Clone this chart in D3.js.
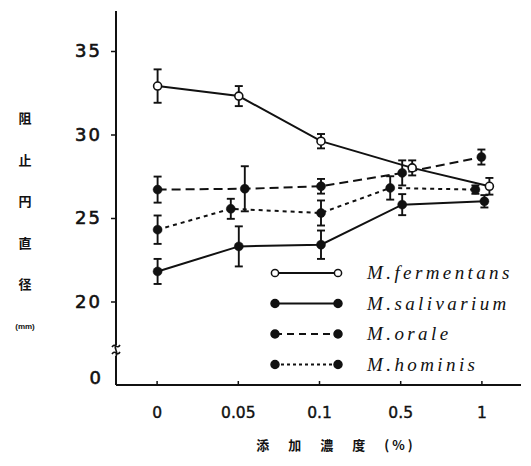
<!DOCTYPE html>
<html>
<head>
<meta charset="utf-8">
<script src="https://cdn.jsdelivr.net/npm/d3@7"></script>
<style>
  body { margin: 0; background: #fff; }
  svg { display: block; }
</style>
</head>
<body>
<div id="chart"></div>
<script>
// concentrations (categories on the x axis)
const concentrations = ["0", "0.05", "0.1", "0.5", "1"];

// inhibition zone diameter (mm), mean and error
const fermentansMean = [32.9, 32.3, 29.6, 28.0, 26.9];
const fermentansErr  = [1.0, 0.6, 0.43, 0.45, 0.5];
const salivariumMean = [21.8, 23.3, 23.4, 25.8, 26.0];
const salivariumErr  = [0.75, 1.2, 0.85, 0.63, 0.37];
const oraleMean      = [26.7, 26.75, 26.9, 27.7, 28.65];
const oraleErr       = [0.78, 1.35, 0.44, 0.75, 0.45];
const hominisMean    = [24.3, 25.55, 25.3, 26.8, 26.7];
const hominisErr     = [0.85, 0.6, 0.75, 0.7, 0.25];

const seriesNames = ["M. fermentans", "M. salivarium", "M. orale", "M. hominis"];
const yTicks = [20, 25, 30, 35];

const width = 531, height = 466;

const svg = d3.select("#chart").append("svg")
    .attr("width", width)
    .attr("height", height)
    .style("font-family", "'Liberation Sans', Arial, sans-serif");

//scales
const x = d3.scalePoint().domain(concentrations).range([116, 522]).padding(0.5);
const y = d3.scaleLinear().domain([20, 35]).range([301.5, 51]);
const axisY = 385;   // where the x axis sits (broken y axis)

// series styling and small horizontal dodge (pixels) so overlapping points separate
const series = [
  { name: seriesNames[0], mean: fermentansMean, err: fermentansErr, dash: null, open: true,  dodge: [1, 1, 2, 12, 8] },
  { name: seriesNames[1], mean: salivariumMean, err: salivariumErr, dash: null, open: false, dodge: [1, 1, 2, 2, 3] },
  { name: seriesNames[2], mean: oraleMean,      err: oraleErr,      dash: "9,5", open: false, dodge: [1, 7, 2, 2, 0] },
  { name: seriesNames[3], mean: hominisMean,    err: hominisErr,    dash: "4,4", open: false, dodge: [1, -7, 2, -10, -6] }
];

const px = (s, i) => x(concentrations[i]) + s.dodge[i];

//y axis
const gy = svg.append("g")
    .attr("transform", "translate(116,0)")
    .call(d3.axisLeft(y).tickValues(yTicks).tickSize(5).tickPadding(9));
gy.select(".domain").remove();
gy.selectAll("line").attr("stroke", "#111").attr("stroke-width", 1.5);
gy.selectAll("text")
    .attr("fill", "#111")
    .attr("stroke", "#111")
    .attr("stroke-width", 0.6)
    .style("font-size", "18px")
    .style("letter-spacing", "2px")
    .style("font-family", "'DejaVu Sans', sans-serif");

// y axis line with break
svg.append("path")
    .attr("d", `M116,${y(37.4)}V345 M116,356V${axisY}`)
    .attr("stroke", "#111").attr("stroke-width", 2).attr("fill", "none");
svg.append("path")
    .attr("d", "M112,347 q2,-3 4,-1 q2,2 4,-1 M112,354 q2,-3 4,-1 q2,2 4,-1")
    .attr("stroke", "#111").attr("stroke-width", 1.6).attr("fill", "none");
svg.append("path")
    .attr("d", "M116,345 C113,348 119,352 116,356")
    .attr("stroke", "#111").attr("stroke-width", 1.6).attr("fill", "none");

svg.append("text")
    .attr("x", 101).attr("y", 384)
    .attr("text-anchor", "end")
    .attr("fill", "#111")
    .attr("stroke", "#111")
    .attr("stroke-width", 0.6)
    .style("font-size", "18px")
    .style("font-family", "'DejaVu Sans', sans-serif")
    .text("0");

//x axis
const gx = svg.append("g")
    .attr("transform", `translate(0,${axisY})`)
    .call(d3.axisBottom(x).tickSize(-4).tickPadding(22));
gx.select(".domain").attr("stroke", "#111").attr("stroke-width", 2)
    .attr("d", "M116,0H521");
gx.selectAll("line").attr("stroke", "#111").attr("stroke-width", 1.5);
gx.selectAll("text")
    .attr("fill", "#111")
    .attr("stroke", "#111")
    .attr("stroke-width", 0.4)
    .style("font-size", "15.5px")
    .style("font-family", "'DejaVu Sans', sans-serif");

//axis titles
svg.append("text")
    .attr("x", 336).attr("y", 450)
    .attr("text-anchor", "middle")
    .attr("fill", "#111")
    .style("font-size", "13px")
    .style("font-weight", "bold")
    .style("letter-spacing", "3px")
    .style("font-family", "'Noto Sans CJK JP', sans-serif")
    .text("添　加　濃　度　(%)");

const yLabel = ["阻", "止", "円", "直", "径"];
svg.append("g").selectAll("text")
    .data(yLabel)
    .join("text")
    .attr("x", 25)
    .attr("y", (d, i) => 123 + i * 41.5)
    .attr("text-anchor", "middle")
    .attr("fill", "#111")
    .style("font-size", "13px")
    .style("font-weight", "bold")
    .style("font-family", "'Noto Sans CJK JP', sans-serif")
    .text(d => d);
svg.append("text")
    .attr("x", 25).attr("y", 329)
    .attr("text-anchor", "middle")
    .attr("fill", "#111")
    .style("font-size", "8px")
    .style("font-weight", "bold")
    .text("(mm)");

//lines
const line = s => d3.line()
    .x((d, i) => px(s, i))
    .y(d => y(d));

series.forEach(s => {
  svg.append("path")
      .datum(s.mean)
      .attr("d", line(s))
      .attr("fill", "none")
      .attr("stroke", "#111")
      .attr("stroke-width", 2)
      .attr("stroke-dasharray", s.dash);
});

//error bars
series.forEach(s => {
  const g = svg.append("g").attr("stroke", "#111").attr("stroke-width", 1.9);
  s.mean.forEach((m, i) => {
    const cx = px(s, i);
    const top = y(m + s.err[i]), bot = y(m - s.err[i]);
    g.append("line").attr("x1", cx).attr("x2", cx).attr("y1", top).attr("y2", bot);
    g.append("line").attr("x1", cx - 4).attr("x2", cx + 4).attr("y1", top).attr("y2", top);
    g.append("line").attr("x1", cx - 4).attr("x2", cx + 4).attr("y1", bot).attr("y2", bot);
  });
});

//markers
series.forEach(s => {
  svg.append("g").selectAll("circle")
      .data(s.mean)
      .join("circle")
      .attr("cx", (d, i) => px(s, i))
      .attr("cy", d => y(d))
      .attr("r", s.open ? 4 : 4.5)
      .attr("fill", s.open ? "#fff" : "#111")
      .attr("stroke", "#111")
      .attr("stroke-width", s.open ? 1.6 : 0.5);
});

//legend
const legend = svg.append("g").attr("transform", "translate(275,273)");
const item = legend.selectAll("g")
    .data(series)
    .join("g")
    .attr("transform", (d, i) => `translate(0,${i * 30.5})`);
item.append("line")
    .attr("x1", 0).attr("x2", 63)
    .attr("stroke", "#111").attr("stroke-width", 1.8)
    .attr("stroke-dasharray", d => d.dash === "9,5" ? "7,5" : d.dash === "4,4" ? "3,3" : null);
item.selectAll("circle")
    .data(d => [d, d].map((s, k) => ({ s, k })))
    .join("circle")
    .attr("cx", d => d.k * 63)
    .attr("r", d => d.s.open ? 3.6 : 4)
    .attr("fill", d => d.s.open ? "#fff" : "#111")
    .attr("stroke", "#111")
    .attr("stroke-width", 1.5);
item.append("text")
    .attr("x", 92)
    .attr("y", 6)
    .attr("fill", "#111")
    .style("font-family", "'Liberation Serif', 'Times New Roman', serif")
    .style("font-style", "italic")
    .style("font-size", "19px")
    .style("letter-spacing", "3.4px")
    .text(d => d.name.replace(" ", ""));
</script>
</body>
</html>
